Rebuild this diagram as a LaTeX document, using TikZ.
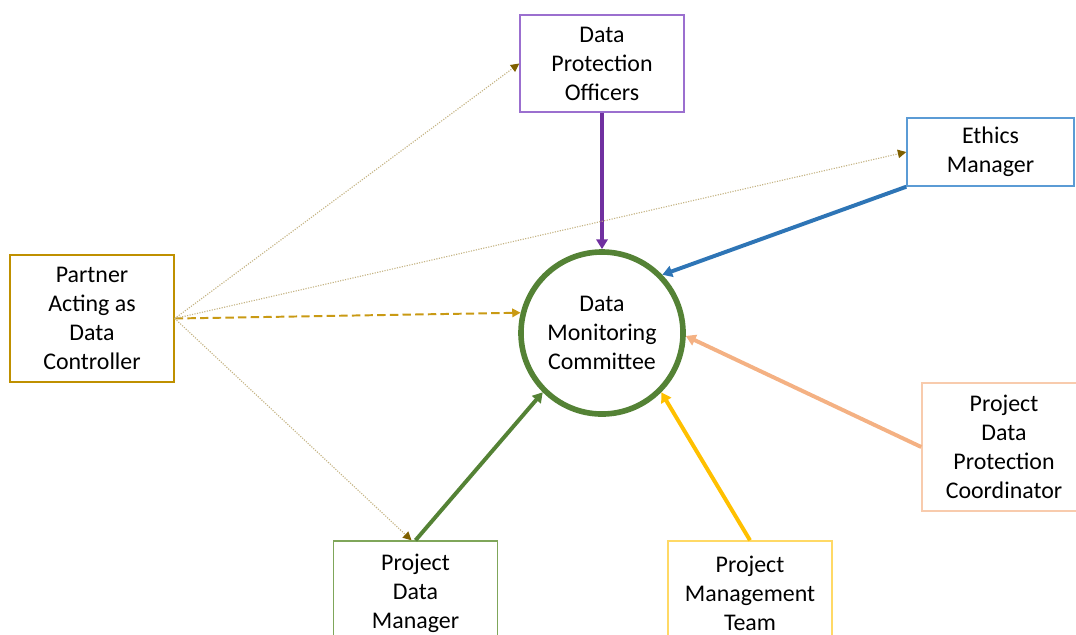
\documentclass[tikz,border=0pt]{standalone}
\usepackage{fontspec}
\setmainfont{Carlito}
\usetikzlibrary{arrows.meta}

\definecolor{dpopurple}{HTML}{7030A0}
\definecolor{dpoline}{HTML}{9B6FCF}
\definecolor{ethblue}{HTML}{2E75B6}
\definecolor{ethline}{HTML}{5B9BD5}
\definecolor{coordpeach}{HTML}{F4B183}
\definecolor{coordline}{HTML}{F8CBAD}
\definecolor{teamgold}{HTML}{FFC000}
\definecolor{teamline}{HTML}{FFD966}
\definecolor{dmcgreen}{HTML}{548235}
\definecolor{mgrline}{HTML}{7FA65A}
\definecolor{ctrlgold}{HTML}{BF9000}
\definecolor{ctrldash}{HTML}{C99A14}
\definecolor{dotline}{HTML}{C4B383}
\definecolor{dottip}{HTML}{7F6000}

\tikzset{
    role/.style={draw, line width=1pt, align=center, minimum width=4.1cm,
        inner sep=0pt, font=\fontsize{17}{20.6}\selectfont},
    feed/.style={line width=2.8pt, -{Triangle[width=8pt,length=7pt]}},
    link/.style={dotline, line width=0.8pt, densely dotted,
        -{Triangle[width=6pt,length=6pt,color=dottip,fill=dottip]}}
}

\begin{document}
\begin{tikzpicture}[x=0.025cm, y=-0.025cm]
    \useasboundingbox (0,0) rectangle (1076,634);

    % Committee (centre)
    \node[circle, draw=dmcgreen, line width=4pt, minimum size=4.05cm, align=center,
        font=\fontsize{17}{20.6}\selectfont] (dmc) at (602,333)
        {Data\\Monitoring\\Committee};

    % Roles around it
    \node[role, draw=ctrlgold, minimum height=3.175cm] (ctrl) at (92,318.5)
        {Partner\\Acting as\\Data\\Controller};
    \node[role, draw=dpoline, minimum height=2.425cm] (dpo) at (602,63.5)
        {Data\\Protection\\Officers};
    \node[role, draw=ethline, minimum width=4.175cm, minimum height=1.7cm] (eth) at (990.5,152)
        {Ethics\\Manager};
    \node[role, draw=coordline, minimum height=3.2cm] (pdpc) at (1004,447)
        {Project\\Data\\Protection\\Coordinator};
    \node[role, draw=mgrline, minimum height=2.6cm] (pdm) at (415.5,593)
        {Project\\Data\\Manager};
    \node[role, draw=teamline, minimum height=2.6cm] (pmt) at (750,593)
        {Project\\Management\\Team};

    % Reporting lines into the committee
    \draw[feed, dpopurple] (dpo.south) -- (dmc.90);
    \draw[feed, ethblue] (eth.south west) -- (dmc.44);
    \draw[feed, coordpeach] (pdpc.west) -- (dmc.-2);
    \draw[feed, teamgold] (pmt.north) -- (dmc.-45);
    \draw[feed, dmcgreen] (pdm.north) -- (dmc.-135);

    % Controller links
    \draw[ctrldash, line width=1.4pt, dash pattern=on 6pt off 3pt,
        -{Triangle[width=6pt,length=6pt]}] (ctrl.east) -- (dmc.166);
    \draw[link] (ctrl.east) -- (dpo.west);
    \draw[link] (ctrl.east) -- (eth.west);
    \draw[link] (ctrl.east) -- ([xshift=-0.1cm]pdm.north);
\end{tikzpicture}
\end{document}
